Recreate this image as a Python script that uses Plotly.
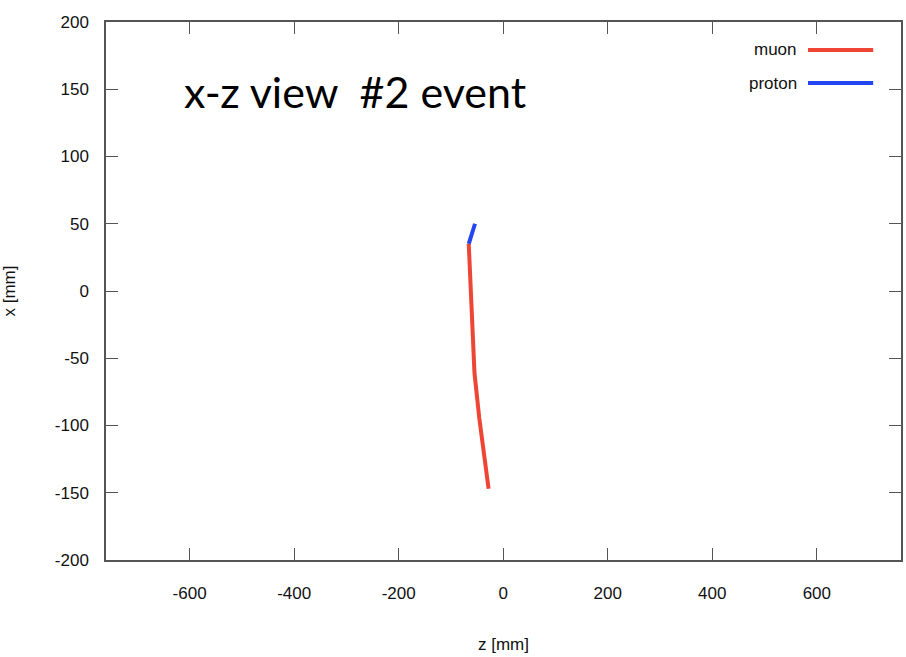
import plotly.graph_objects as go

# Reconstructed track points (z, x) in mm
muon_z = [-66, -62, -57, -55, -46, -36, -28]
muon_x = [35, -2, -39, -61, -94, -123, -147]
proton_z = [-66, -54]
proton_x = [35, 50]

z_ticks = [-600, -400, -200, 0, 200, 400, 600]
x_ticks = [-200, -150, -100, -50, 0, 50, 100, 150, 200]

MUON_COLOR = "#EE4535"
PROTON_COLOR = "#2446F2"
AXIS_COLOR = "#555555"
TICK_FONT = dict(family="Liberation Sans, Arial, sans-serif", size=17, color="#111111")

fig = go.Figure()
fig.add_trace(go.Scatter(x=muon_z, y=muon_x, mode="lines", name="muon",
                         line=dict(color=MUON_COLOR, width=4), showlegend=False))
fig.add_trace(go.Scatter(x=proton_z, y=proton_x, mode="lines", name="proton",
                         line=dict(color=PROTON_COLOR, width=4), showlegend=False))

axis_common = dict(
    showgrid=False, zeroline=False, showline=True, linecolor=AXIS_COLOR, linewidth=1.5,
    mirror="allticks", ticks="inside", ticklen=12, tickcolor=AXIS_COLOR, tickwidth=1.2,
    tickfont=TICK_FONT,
)

fig.update_xaxes(range=[-760, 761], tickvals=z_ticks, ticktext=[str(v) for v in z_ticks],
                 ticklabelstandoff=17,
                 title=dict(text="z [mm]", font=TICK_FONT, standoff=36), **axis_common)
fig.update_yaxes(range=[-200, 200], tickvals=x_ticks, ticktext=[str(v) for v in x_ticks],
                 ticklabelstandoff=12,
                 title=dict(text="x [mm]", font=TICK_FONT, standoff=35), **axis_common)

# Legend drawn gnuplot-style: label on the left, line sample on the right
legend_items = [("muon", MUON_COLOR, 0.948), ("proton", PROTON_COLOR, 0.8866)]
for label, color, ypos in legend_items:
    fig.add_annotation(x=0.8715, y=ypos, xref="paper", yref="paper", text=label,
                       showarrow=False, xanchor="right", yanchor="middle",
                       font=dict(family="Liberation Sans, Arial, sans-serif", size=17, color="#111111"))
    fig.add_shape(type="line", xref="paper", yref="paper", x0=0.883, x1=0.965,
                  y0=ypos, y1=ypos, line=dict(color=color, width=4))

fig.add_annotation(x=0.096, y=0.87, xref="paper", yref="paper",
                   text="x-z view\u00a0 #2 event", showarrow=False,
                   xanchor="left", yanchor="middle",
                   font=dict(family="Lato, Open Sans, sans-serif", size=43, color="#000000"))

fig.update_layout(
    width=906, height=657,
    margin=dict(l=106, r=3, t=22, b=97),
    paper_bgcolor="white", plot_bgcolor="white",
)

fig.write_html("out.html")
